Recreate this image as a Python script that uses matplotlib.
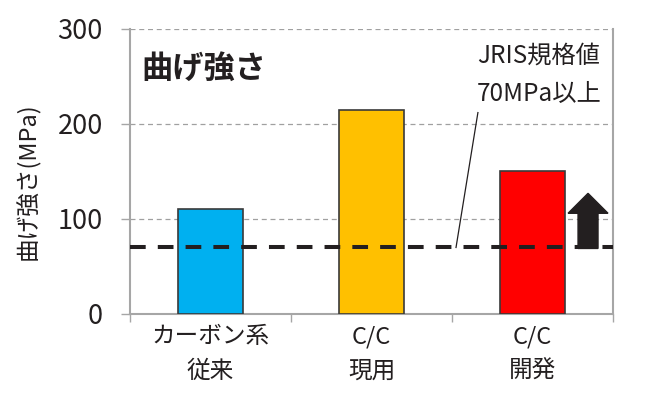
import matplotlib
matplotlib.use("Agg")
import matplotlib.pyplot as plt
from matplotlib.ticker import FixedLocator

plt.rcParams['font.family'] = ['Noto Sans CJK JP', 'DejaVu Sans']

# Data
categories = ["カーボン系\n従来", "C/C\n現用", "C/C\n開発"]
strength = [110, 215, 151]
bar_colors = ["#00b0f0", "#ffc000", "#ff0000"]
yticks = [0, 100, 200, 300]
jris_limit = 70
arrow_top = 127

grey = "#a6a6a6"

fig = plt.figure(figsize=(6.66, 3.96), dpi=100)
ax = fig.add_axes([0.1952, 0.2071, 0.7252, 0.7197])

x = list(range(len(categories)))
ax.bar(x, strength, width=0.4, color=bar_colors, edgecolor="#3a3a3a",
       linewidth=1.2, zorder=3)

# JRIS reference line
ax.axhline(jris_limit, color="#231f20", lw=2.9, ls=(0, (3.9, 3.0)), zorder=4)

# upward arrow next to the developed C/C bar
ax.arrow(2.345, jris_limit - 1, 0, arrow_top - jris_limit + 1, width=0.124,
         head_width=0.248, head_length=21, length_includes_head=True,
         color="#231f20", zorder=5)

# leader line and annotation
ax.plot([1.525, 1.661], [jris_limit, 212], color="#231f20", lw=0.9, zorder=4)
ax.text(2.04, 286, "JRIS規格値\n70MPa以上", ha="center", va="top",
        fontsize=17.5, linespacing=1.62, color="#231f20", zorder=6)

ax.text(-0.43, 258, "曲げ強さ", ha="left", va="center", fontsize=22.5,
        fontweight="bold", color="#231f20")

ax.set_xlim(-0.5, 2.5)
ax.set_ylim(0, 300)
ax.set_yticks(yticks)
ax.tick_params(axis="y", length=6.5, width=1, color=grey, pad=13,
               labelsize=19.5, labelcolor="#231f20")

# category boundaries as major ticks, labels on minor ticks
ax.xaxis.set_major_locator(FixedLocator([-0.5, 0.5, 1.5, 2.5]))
ax.xaxis.set_minor_locator(FixedLocator(x))
ax.set_xticklabels([])
ax.set_xticklabels(categories, minor=True)
ax.tick_params(axis="x", which="major", length=6, width=1, color=grey)
ax.tick_params(axis="x", which="minor", length=0, pad=8, labelsize=17,
               labelcolor="#231f20")
for lab in ax.get_xticklabels(minor=True):
    lab.set_linespacing(1.65)

ax.grid(axis="y", color="#a0a0a0", lw=0.9, ls=(0, (4, 3)), zorder=0)

for side in ["left", "bottom", "right"]:
    ax.spines[side].set_color(grey)
    ax.spines[side].set_linewidth(1.5)
ax.spines["top"].set_visible(False)

ax.set_ylabel("曲げ強さ(MPa)", fontsize=17, color="#231f20")
ax.yaxis.set_label_coords(-0.186, 0.467)

fig.savefig("out.png", dpi=100)
